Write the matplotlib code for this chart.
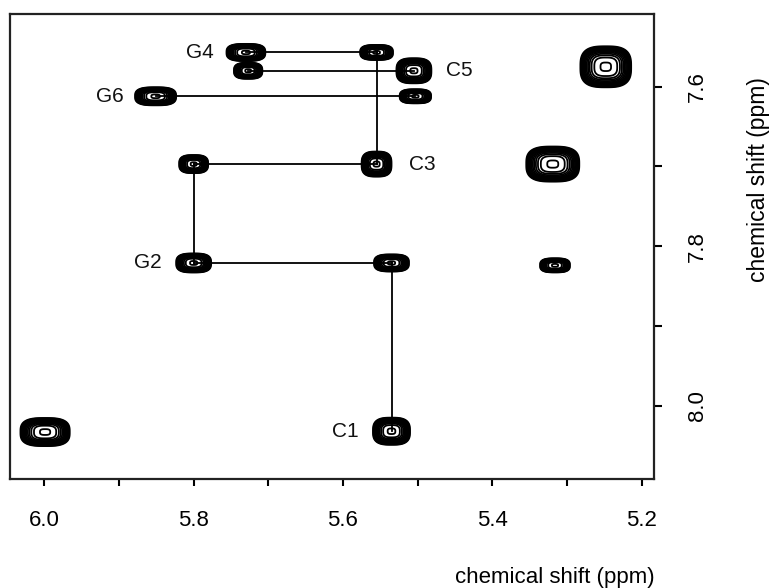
import numpy as np
import matplotlib
matplotlib.use("Agg")
import matplotlib.pyplot as plt
from matplotlib.ticker import MultipleLocator, FixedLocator

plt.rcParams['font.family'] = ['Liberation Sans', 'DejaVu Sans']

# ---- data (ppm) ----
peak_names = ["G4", "G4b", "X4", "G6", "C5", "X6", "R1", "A3", "C3", "R2", "G2", "X2", "R3", "C1", "L1"]
peak_x = [5.730, 5.727, 5.555, 5.851, 5.505, 5.503, 5.248, 5.800, 5.555, 5.319, 5.800, 5.535, 5.316, 5.535, 5.999]
peak_y = [7.557, 7.580, 7.557, 7.612, 7.580, 7.612, 7.575, 7.697, 7.697, 7.697, 7.821, 7.821, 7.824, 8.032, 8.033]
peak_wx = [0.026, 0.019, 0.022, 0.0275, 0.0234, 0.021, 0.034, 0.0194, 0.020, 0.0355, 0.0234, 0.0234, 0.020, 0.0248, 0.033]
peak_wy = [0.0107, 0.0100, 0.0094, 0.0113, 0.0157, 0.0088, 0.0257, 0.0113, 0.0157, 0.022, 0.0119, 0.0107, 0.0088, 0.017, 0.0176]

# connectivity walk (pairs of peaks joined by lines)
links = [("G4", "X4"), ("G4b", "C5"), ("G6", "X6"), ("X4", "C3"),
         ("A3", "C3"), ("A3", "G2"), ("G2", "X2"), ("X2", "C1")]

label_names = ["G4", "G6", "C5", "C3", "G2", "C1"]
label_peaks = ["G4", "G6", "C5", "C3", "G2", "C1"]
label_side = [-1, -1, 1, 1, -1, -1]

x_ticks_major = [6.0, 5.8, 5.6, 5.4, 5.2]
y_ticks_major = [7.6, 7.8, 8.0]
axis_title = "chemical shift (ppm)"

# ---- figure ----
fig = plt.figure(figsize=(7.69, 5.88), dpi=100)
ax = fig.add_axes([10/769, (588-479)/588, 644/769, 465/588])

xg = np.linspace(5.17, 6.06, 1400)
yg = np.linspace(7.50, 8.10, 1100)
X, Y = np.meshgrid(xg, yg)
K = 30.0
Z = np.zeros_like(X)
for px, py, wx, wy in zip(peak_x, peak_y, peak_wx, peak_wy):
    r3 = np.abs((X - px) / wx) ** 3 + np.abs((Y - py) / wy) ** 3
    Z += np.exp(-np.log(K) * r3)

levels = np.geomspace(1.0 / K, 0.97, 13)
ax.contour(X, Y, Z, levels=levels, colors='black', linewidths=1.3)

idx = {n: i for i, n in enumerate(peak_names)}
for a, b in links:
    ia, ib = idx[a], idx[b]
    ax.plot([peak_x[ia], peak_x[ib]], [peak_y[ia], peak_y[ib]], color='black', lw=1.3, zorder=1)

for name, pk, side in zip(label_names, label_peaks, label_side):
    i = idx[pk]
    ax.annotate(name, (peak_x[i], peak_y[i]), xytext=(side * 33, 0), textcoords='offset points',
                ha='center', va='center', fontsize=15, color='#111111')

ax.set_xlim(6.046, 5.1834)
ax.set_ylim(8.0919, 7.5088)

ax.xaxis.set_major_locator(FixedLocator(x_ticks_major))
ax.xaxis.set_minor_locator(MultipleLocator(0.1))
ax.set_xticklabels([f"{v:.1f}" for v in x_ticks_major])
ax.yaxis.set_major_locator(FixedLocator(y_ticks_major))
ax.yaxis.set_minor_locator(MultipleLocator(0.1))
ax.set_yticklabels([f"{v:.1f}" for v in y_ticks_major])

ax.yaxis.tick_right()
ax.tick_params(axis='x', which='both', direction='out', length=5, width=1.5, pad=17, labelsize=16)
ax.tick_params(axis='y', which='both', direction='out', length=6, width=1.5, pad=18, labelsize=16,
               labelrotation=90)
for lbl in ax.get_yticklabels():
    lbl.set_va('center')
for s in ax.spines.values():
    s.set_linewidth(1.6)
    s.set_color('#222222')

fig.text(655/769, 1 - 577/588, axis_title, ha='right', va='center', fontsize=16)
fig.text(758/769, 1 - 180/588, axis_title, ha='center', va='center', fontsize=16.5, rotation=90)

fig.savefig("out.png", dpi=100)
